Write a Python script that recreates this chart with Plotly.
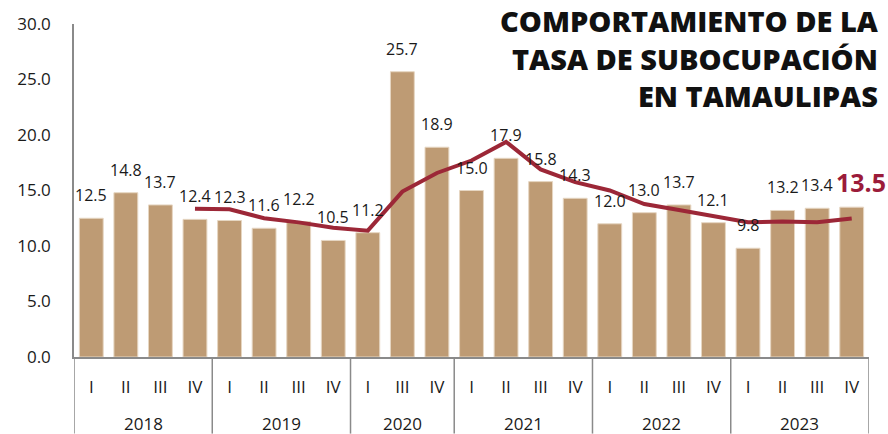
import plotly.graph_objects as go

years = ["2018"] * 4 + ["2019"] * 4 + ["2020"] * 3 + ["2021"] * 4 + ["2022"] * 4 + ["2023"] * 4
quarters = ["I", "II", "III", "IV", "I", "II", "III", "IV", "I", "III", "IV",
            "I", "II", "III", "IV", "I", "II", "III", "IV", "I", "II", "III", "IV"]
rate = [12.5, 14.8, 13.7, 12.4, 12.3, 11.6, 12.2, 10.5, 11.2, 25.7, 18.9,
        15.0, 17.9, 15.8, 14.3, 12.0, 13.0, 13.7, 12.1, 9.8, 13.2, 13.4, 13.5]
trend = [None, None, None, 13.35, 13.3, 12.5, 12.13, 11.65, 11.38, 14.9, 16.58,
         17.7, 19.38, 16.9, 15.75, 15.0, 13.78, 13.25, 12.7, 12.15, 12.2, 12.13, 12.48]
title_lines = ["COMPORTAMIENTO DE LA", "TASA DE SUBOCUPACIÓN", "EN TAMAULIPAS"]

BAR = "#BE9B74"
RED = "#9C2737"
AXIS = "#8a8a8a"
TXT = "#1a1a1a"
FONT = "Open Sans"

idx = list(range(len(rate)))

fig = go.Figure()
fig.add_trace(go.Bar(
    x=idx, y=rate, marker=dict(color=BAR, line=dict(color="#E6D6C2", width=1)),
    width=0.69, hoverinfo="skip"))
fig.add_trace(go.Scatter(
    x=idx, y=trend, mode="lines", line=dict(color=RED, width=4),
    connectgaps=False, hoverinfo="skip"))

# value labels
for i, v in zip(idx, rate):
    last = i == len(rate) - 1
    fig.add_annotation(
        x=i, y=v, text=f"{v:.1f}", showarrow=False, xref="x", yref="y",
        yanchor="bottom", yshift=10 if not last else 6, xshift=9 if last else 0,
        font=dict(family=FONT, size=25 if last else 16, color="#9B1B3A" if last else TXT,
                  weight="bold" if last else "normal"))

# year group labels and dividers
groups = []
for i, y in enumerate(years):
    if not groups or groups[-1][0] != y:
        groups.append([y, i, i])
    else:
        groups[-1][2] = i
for y, a, b in groups:
    fig.add_annotation(
        x=(a + b) / 2, y=0, xref="x", yref="y", yshift=-66, yanchor="middle",
        text=y, showarrow=False, font=dict(family=FONT, size=17, color=TXT))
    fig.add_shape(type="line", xref="x", yref="paper", x0=a - 0.5, x1=a - 0.5,
                  y0=0, y1=-0.23, line=dict(color=AXIS, width=1.5))
fig.add_shape(type="line", xref="x", yref="paper", x0=len(rate) - 0.5, x1=len(rate) - 0.5,
              y0=0, y1=-0.23, line=dict(color=AXIS, width=1.5))

fig.add_annotation(
    x=1.015, y=0.897, xref="paper", yref="paper", xanchor="right",
    yanchor="middle", align="right", showarrow=False, text="<br>".join(title_lines),
    font=dict(family=FONT, size=29, color="#111111", weight=800))

fig.update_layout(
    width=888, height=434, margin=dict(l=74, r=19, t=16, b=77),
    paper_bgcolor="white", plot_bgcolor="white", showlegend=False,
    font=dict(family=FONT, size=16, color=TXT))
fig.update_xaxes(
    range=[-0.5, len(rate) - 0.5], tickmode="array", tickvals=idx, ticktext=quarters,
    showline=True, linecolor=AXIS, linewidth=1.5, showgrid=False, zeroline=False,
    ticks="", ticklabelstandoff=14,
    tickfont=dict(family=FONT, size=17, color=TXT), fixedrange=True)
fig.update_yaxes(
    range=[0, 30], dtick=5, tickformat=".1f", showgrid=False, zeroline=False,
    showline=True, linecolor=AXIS, linewidth=1.5, ticks="", ticklabelstandoff=18,
    tickfont=dict(family=FONT, size=17, color=TXT), fixedrange=True)

fig.write_html("out.html")
